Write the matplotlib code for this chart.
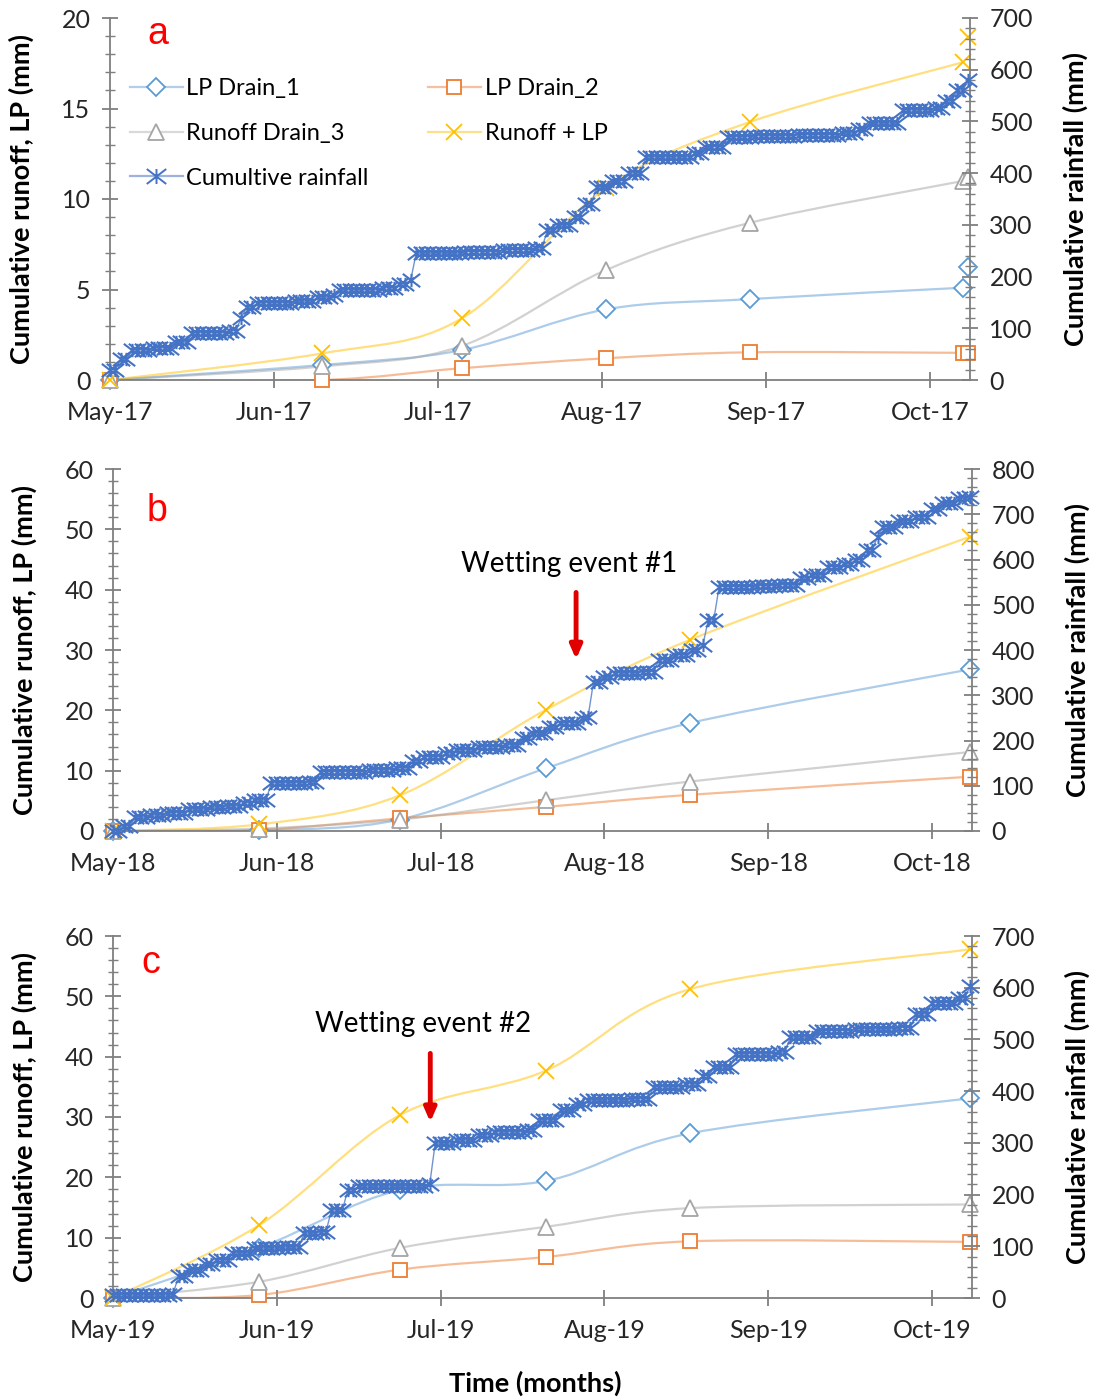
import numpy as np
import matplotlib
matplotlib.use("Agg")
import matplotlib.pyplot as plt
from matplotlib.path import Path
from matplotlib.patches import PathPatch
from matplotlib.lines import Line2D
from matplotlib.ticker import MultipleLocator

plt.rcParams['font.family'] = ['Lato', 'DejaVu Sans']

# ---- data (days since 1 May) ----
month_ticks = [0, 30, 60, 90, 120, 150]
labels_a = ["May-17", "Jun-17", "Jul-17", "Aug-17", "Sep-17", "Oct-17"]
labels_b = ["May-18", "Jun-18", "Jul-18", "Aug-18", "Sep-18", "Oct-18"]
labels_c = ["May-19", "Jun-19", "Jul-19", "Aug-19", "Sep-19", "Oct-19"]

# panel a (2017) sampling dates and cumulative values (mm)
day_a = [0, 38.8, 64.3, 90.7, 117, 156.1, 157]
lp1_a = [0, 0.83, 1.65, 3.9, 4.47, 5.1, 6.25]
lp2_a = [0, 0.0, 0.65, 1.2, 1.53, 1.5, 1.5]
rd3_a = [0, 0.75, 1.88, 6.07, 8.68, 11.0, 11.2]
rlp_a = [0, 1.47, 3.4, 10.6, 14.25, 17.56, 18.97]

# panel b (2018)
day_b = [0, 26.8, 52.5, 79.3, 105.7, 157]
lp1_b = [0, 0.1, 1.9, 10.4, 17.9, 26.8]
lp2_b = [0, 0.2, 2.1, 4.0, 6.0, 9.0]
rd3_b = [0, 0.4, 1.9, 5.1, 8.2, 13.1]
rlp_b = [0, 1.1, 5.9, 20.1, 31.7, 48.8]

# panel c (2019)
day_c = [0, 26.8, 52.5, 79.3, 105.7, 157]
lp1_c = [0, 8.3, 17.9, 19.4, 27.3, 33.1]
lp2_c = [0, 0.5, 4.7, 6.8, 9.4, 9.3]
rd3_c = [0, 2.7, 8.3, 11.8, 14.9, 15.5]
rlp_c = [0, 12.1, 30.3, 37.7, 51.2, 57.8]

# cumulative rainfall (mm) read at the days where it changes
rain_day_a = [0, 2, 4, 8, 12, 15, 22, 24, 25, 27, 34, 38, 41, 42, 50, 53, 55, 56, 65, 72, 78,
              80, 82, 85, 87, 89, 92, 95, 98, 107, 109, 113, 118, 126, 134, 137, 139, 145,
              151, 153, 155, 157]
rain_cum_a = [20, 40, 58, 62, 73, 91, 95, 120, 141, 149, 152, 160, 165, 174, 178, 186, 193,
              245, 248, 252, 255, 290, 300, 315, 340, 373, 385, 400, 431, 439, 451, 470, 472,
              474, 477, 485, 496, 522, 525, 540, 560, 580]

rain_day_b = [0, 2, 4, 7, 10, 14, 18, 21, 24, 26, 29, 36, 38, 47, 52, 55, 57, 61, 63, 67, 72,
              75, 77, 80, 82, 86, 87, 88, 90, 92, 97, 100, 103, 106, 108, 109, 111, 118, 122,
              126, 128, 131, 134, 136, 138, 140, 141, 144, 147, 150, 152, 155, 157]
rain_cum_b = [0, 12, 30, 35, 40, 48, 52, 55, 62, 68, 106, 108, 131, 135, 140, 155, 164, 172,
              179, 186, 190, 205, 216, 230, 239, 250, 253, 330, 340, 349, 352, 378, 390, 400,
              410, 466, 540, 542, 544, 559, 565, 584, 590, 600, 621, 650, 672, 685, 694, 712,
              725, 735, 739]

rain_day_c = [0, 11, 12, 14, 17, 19, 22, 26, 31, 35, 38, 40, 43, 45, 58, 59, 63, 67, 70, 76,
              78, 82, 85, 87, 95, 99, 105, 108, 110, 114, 122, 124, 129, 136, 144, 147, 150,
              155, 157]
rain_cum_c = [5, 8, 42, 55, 65, 74, 87, 96, 98, 125, 128, 170, 209, 216, 220, 299, 305, 315,
              321, 324, 344, 363, 375, 382, 385, 408, 414, 430, 446, 472, 475, 504, 517, 520,
              523, 549, 571, 581, 604]

c_lp1 = "#5B9BD5"
c_lp2 = "#ED7D31"
c_rd3 = "#A5A5A5"
c_rlp = "#FFC000"
c_rain = "#4472C4"
axis_col = "#7F7F7F"

# excel style star marker: an X with a vertical bar, a bit wider than tall
star = Path([(-1.3, -1), (1.3, 1), (-1.3, 1), (1.3, -1), (0, -1), (0, 1)],
            [Path.MOVETO, Path.LINETO, Path.MOVETO, Path.LINETO, Path.MOVETO, Path.LINETO])


def smooth(x, y):
    pts = np.column_stack([x, y]).astype(float)
    n = len(pts)
    verts = [pts[0]]
    codes = [Path.MOVETO]
    for i in range(n - 1):
        p0 = pts[max(i - 1, 0)]
        p1 = pts[i]
        p2 = pts[i + 1]
        p3 = pts[min(i + 2, n - 1)]
        verts += [p1 + (p2 - p0) / 6, p2 - (p3 - p1) / 6, p2]
        codes += [Path.CURVE4] * 3
    return Path(verts, codes)


def series(ax, x, y, color, marker, ms, nline=None):
    nline = len(x) if nline is None else nline
    ax.add_patch(PathPatch(smooth(x[:nline], y[:nline]), facecolor="none",
                           edgecolor=color, lw=1.6, alpha=0.5, zorder=2))
    ax.plot(x, y, ls="none", marker=marker, ms=ms, mfc="white", mec=color, mew=1.3,
            zorder=3, clip_on=False)


def panel(rect, day, lp1, lp2, rd3, rlp, rday, rcum, ymax, ystep, yminor,
          rmax, xlabels, letter, letter_pos, nline=None):
    ax = fig.add_axes(rect)
    series(ax, day, lp1, c_lp1, "D", 9, nline)
    series(ax, day, lp2, c_lp2, "s", 10, nline)
    series(ax, day, rd3, c_rd3, "^", 11, nline)
    series(ax, day, rlp, c_rlp, "x", 12, nline)
    ax.set_xlim(0, 157.3)
    ax.set_ylim(0, ymax)
    ax.yaxis.set_major_locator(MultipleLocator(ystep))
    ax.yaxis.set_minor_locator(MultipleLocator(yminor))
    ax.set_xticks(month_ticks)
    ax.set_xticklabels(xlabels)
    ax.spines["top"].set_visible(False)
    ax.spines["right"].set_visible(False)
    for s in ["left", "bottom"]:
        ax.spines[s].set_color(axis_col)
        ax.spines[s].set_linewidth(1.3)
    ax.tick_params(axis="both", which="major", direction="inout", length=12, width=1.3,
                   color=axis_col, labelsize=18, labelcolor="#262626")
    ax.tick_params(axis="y", which="minor", direction="inout", length=7, width=1,
                   color=axis_col)
    ax.tick_params(axis="x", pad=9)
    ax.tick_params(axis="y", pad=8)
    ax.set_ylabel("Cumulative runoff, LP (mm)", fontsize=19.5, fontweight="bold")
    ax.yaxis.set_label_coords(-0.088, 0.5)

    ax2 = ax.twinx()
    days = np.arange(0, 158)
    rain = np.array(rcum)[np.searchsorted(rday, days, side="right") - 1]
    ax2.plot(days, rain, color="#6F93D3", lw=1, marker=star, ms=12.5, mec=c_rain,
             mew=1.5, clip_on=False, zorder=4)
    ax2.set_ylim(0, rmax)
    ax2.yaxis.set_major_locator(MultipleLocator(100))
    ax2.yaxis.set_minor_locator(MultipleLocator(20))
    for s in ["top", "left", "bottom"]:
        ax2.spines[s].set_visible(False)
    ax2.spines["right"].set_color(axis_col)
    ax2.spines["right"].set_linewidth(1.3)
    ax2.tick_params(axis="y", which="major", direction="inout", length=12, width=1.3,
                    color=axis_col, labelsize=18, labelcolor="#262626", pad=8)
    ax2.tick_params(axis="y", which="minor", direction="inout", length=7, width=1,
                    color=axis_col)
    ax2.set_ylabel("Cumulative rainfall (mm)", fontsize=19.5, fontweight="bold")
    ax2.yaxis.set_label_coords(1.108, 0.5)
    ax2.text(letter_pos[0], letter_pos[1], letter, transform=ax2.transAxes, color="red",
             fontsize=27, family="Liberation Sans", va="center", ha="center")
    return ax, ax2


fig = plt.figure(figsize=(10.96, 13.99), dpi=100)

H = 1399.0
W = 1096.0
axa, axa2 = panel([110 / W, 1 - 380 / H, 860 / W, 362 / H], day_a, lp1_a, lp2_a, rd3_a, rlp_a,
                  rain_day_a, rain_cum_a, 20, 5, 1, 700, labels_a, "a", (0.056, 0.955), nline=6)
axb, axb2 = panel([113 / W, 1 - 831 / H, 859 / W, 362 / H], day_b, lp1_b, lp2_b, rd3_b, rlp_b,
                  rain_day_b, rain_cum_b, 60, 10, 2, 800, labels_b, "b", (0.051, 0.885))
axc, axc2 = panel([113 / W, 1 - 1298 / H, 859 / W, 362 / H], day_c, lp1_c, lp2_c, rd3_c, rlp_c,
                  rain_day_c, rain_cum_c, 60, 10, 2, 700, labels_c, "c", (0.044, 0.925))

axc.set_xlabel("Time (months)", fontsize=19.5, fontweight="bold")
axc.xaxis.set_label_coords(0.491, -0.2)

# wetting event annotations
axb.annotate("", xy=(84.8, 28), xytext=(84.8, 40),
             arrowprops=dict(arrowstyle="-|>,head_width=0.35,head_length=0.8", color="#E00000",
                             lw=3.5))
axb.text(83.5, 44.3, "Wetting event #1", fontsize=20, ha="center", va="center")
axc.annotate("", xy=(58.1, 28.7), xytext=(58.1, 41),
             arrowprops=dict(arrowstyle="-|>,head_width=0.35,head_length=0.8", color="#E00000",
                             lw=3.5))
axc.text(56.7, 45.4, "Wetting event #2", fontsize=20, ha="center", va="center")


# legend (panel a only)
def h(color, marker, ms, mec):
    return Line2D([], [], color=color, lw=1.6, marker=marker, ms=ms,
                  mfc="white", mec=mec, mew=1.3)


handles = [h("#B4CDEA", "D", 9, c_lp1), h("#D9D9D9", "^", 11, c_rd3),
           Line2D([], [], color="#9DB3DE", lw=1.6, marker=star, ms=14, mec=c_rain, mew=1.4),
           h("#F5BFA0", "s", 10, c_lp2), h("#FFE08A", "x", 12, c_rlp)]
labs = ["LP Drain_1", "Runoff Drain_3", "Cumultive rainfall", "LP Drain_2", "Runoff + LP"]
leg = axa2.legend(handles, labs, ncol=2, loc="upper left", bbox_to_anchor=(0.012, 0.859),
                  frameon=False, fontsize=17, handlelength=2.25, handletextpad=0.15,
                  columnspacing=2.5, labelspacing=1.0, borderaxespad=0)

fig.savefig("out.png", dpi=100)
